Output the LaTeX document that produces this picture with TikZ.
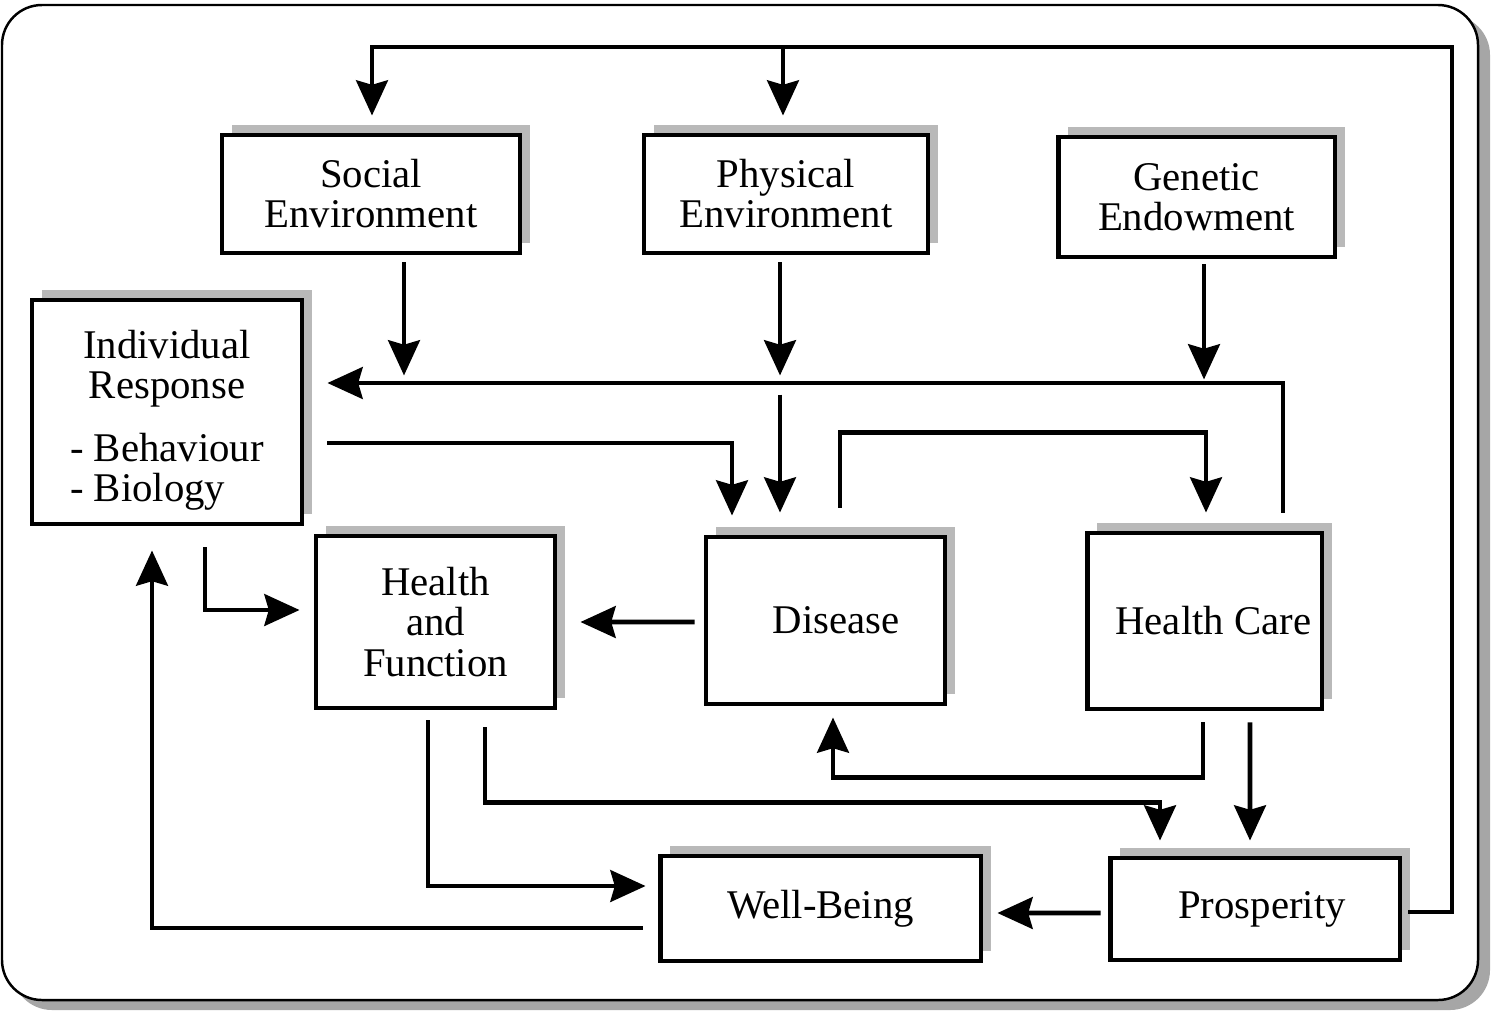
\documentclass[tikz,border=0pt]{standalone}
\usepackage{fontspec}
\setmainfont{Liberation Serif}
\usetikzlibrary{arrows.meta,calc,shadows}
\begin{document}
\begin{tikzpicture}[x=0.02cm,y=-0.02cm,
  box/.style={draw=black, line width=2.8pt, fill=white, inner sep=0pt, align=center,
    font=\fontsize{23.2}{22.8}\selectfont,
    general shadow={fill=gray!55, shadow xshift=5.5pt, shadow yshift=5.5pt}},
  ln/.style={line width=2.8pt},
  arr/.style={ln, -{Stealth[length=20pt,width=18pt,inset=2.5pt]}}]
\useasboundingbox (0,0) rectangle (1493,1012);
% outer frame
\fill[gray!70, rounded corners=0.8cm] (12,15) rectangle (1490,1010);
\draw[fill=white, line width=1.4pt, rounded corners=0.8cm] (2,5) rectangle (1478,1000);
% nodes
\node[box, minimum width=5.96cm, minimum height=2.36cm] (soc) at (371,194) {Social\\Environment};
\node[box, minimum width=5.68cm, minimum height=2.36cm] (phy) at (786,194) {Physical\\Environment};
\node[box, minimum width=5.54cm, minimum height=2.40cm] (gen) at (1196.5,197) {Genetic\\Endowment};
\node[box, minimum width=5.40cm, minimum height=4.48cm] (ind) at (167,412)
  {\begin{tabular}{@{}l@{}}\multicolumn{1}{@{}c@{}}{\rule{0pt}{27.5pt}Individual}\\ \multicolumn{1}{@{}c@{}}{Response}\\[13pt] - Behaviour\\ - Biology\end{tabular}};
\node[box, minimum width=4.78cm, minimum height=3.44cm] (hf) at (435.5,622) {Health\\and\\Function};
\node[box, minimum width=4.78cm, minimum height=3.34cm] (dis) at (825.5,620.5) {\hspace*{12pt}Disease};
\node[box, minimum width=4.70cm, minimum height=3.52cm] (hc) at (1204.5,621) {\hspace*{10pt}Health Care};
\node[box, minimum width=6.42cm, minimum height=2.10cm] (wb) at (820.5,908.5) {Well-Being};
\node[box, minimum width=5.80cm, minimum height=2.04cm] (pro) at (1255,909) {\hspace*{8pt}Prosperity};
% connectors
\coordinate (topR) at (1452,47);
\draw[arr] ($(pro.east)+(6,3)$) -| (topR) -| ($(soc.north)+(1,-17)$);
\draw[arr] ($(phy.north |- topR)+(-3,0)$) -- ($(phy.north)+(-3,-17)$);
\draw[arr] ($(soc.south)+(33,7)$) -- ++(0,113);
\draw[arr] ($(phy.south)+(-6,7)$) -- ++(0,113);
\draw[arr] ($(gen.south)+(7.5,5)$) -- ++(0,115);
\draw[arr] ($(hc.north)+(78.5,-18)$) |- ($(ind.east)+(23,-29)$);
\draw[arr] ($(dis.north)+(-45.5,-140)$) -- ($(dis.north)+(-45.5,-22)$);
\draw[arr] ($(ind.east)+(23,31)$) -| ($(dis.north)+(-93.5,-19)$);
\draw[arr] ($(dis.north)+(14.5,-27)$) -- ++(0,-75) -| ($(hc.north)+(1.5,-18)$);
\draw[arr] ($(ind.south)+(38,21)$) |- ($(hf.west)+(-14,-12)$);
\draw[arr] ($(dis.west)+(-9,1.5)$) -- ($(hf.east)+(23,0)$);
\draw[arr] ($(hf.south)+(-7.5,10)$) |- ($(wb.west)+(-12,-22.5)$);
\draw[arr] ($(hf.south)+(49.5,17)$) -- ++(0,75) -| ($(pro.north)+(-95,-15)$);
\draw[arr] ($(hc.south)+(-1.5,11)$) -- ++(0,55) -| ($(dis.south)+(7.5,11)$);
\draw[arr] ($(hc.south)+(45.5,11)$) -- ($(pro.north)+(-5,-15)$);
\draw[arr] ($(pro.west)+(-7,4)$) -- ($(wb.east)+(14,4.5)$);
\draw[arr] ($(wb.west)+(-15,19.5)$) -| ($(ind.south)+(-15,24)$);
\end{tikzpicture}
\end{document}
